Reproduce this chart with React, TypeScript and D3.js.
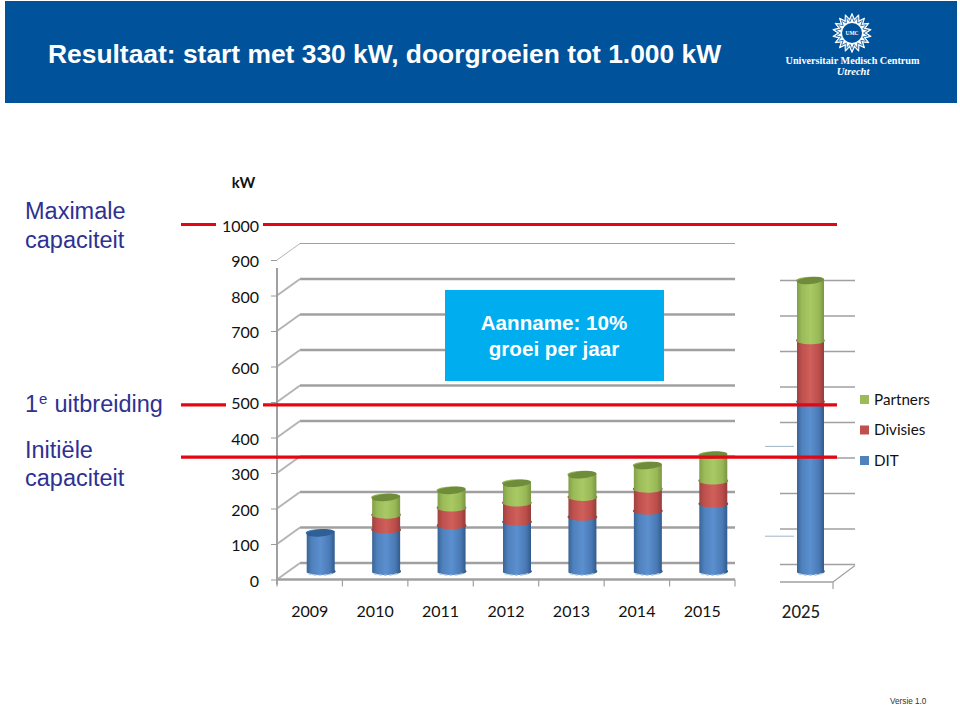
import { useEffect, useRef } from 'react';
import * as d3 from 'd3';

// Chart values (kW)
const years = ['2009', '2010', '2011', '2012', '2013', '2014', '2015'];
const lateYears = ['2025'];
const dit = [108, 117, 129, 139, 153, 170, 190];
const divisies = [0, 42, 50, 54, 56, 62, 65];
const partners = [0, 49, 49, 55, 63, 66, 72];
const ditLate = [478];
const divisiesLate = [172];
const partnersLate = [169];
const axisTicks = [0, 100, 200, 300, 400, 500, 600, 700, 800, 900, 1000];
const gridValues = [0, 100, 200, 300, 400, 500, 600, 700, 800, 900];
const lateGridValues = [0, 100, 200, 300, 400, 500, 600, 700, 800];
const capacityLines = [1000, 492, 345];
const legendNames = ['Partners', 'Divisies', 'DIT'];

const NAVY = '#2e3191';
const ARIAL = '"Liberation Sans", Arial, sans-serif';
const CHART_FONT = 'Lato, sans-serif';

const App = () => {
  const svgRef = useRef<SVGSVGElement | null>(null);

  useEffect(() => {
    const svg = d3.select(svgRef.current);
    svg.selectAll('*').remove();

    // Plot frame
    const left = 277;
    const right = 735;
    const depthX = 23;
    const depthY = 16.5;

    const y = d3.scaleLinear().domain([0, 900]).range([579.5, 260]);
    const x = d3.scaleBand().domain(years).range([left, right]);
    const xLate = d3.scaleBand().domain(lateYears).range([780, 833]);

    // Horizontal gradients for the cylinders
    const defs = svg.append('defs');
    const colors: Record<string, string[]> = {
      dit: ['#34608f', '#4f81bd', '#5b8fce', '#4a7ab6', '#2c5583'],
      div: ['#97403d', '#c0504d', '#cf5f5b', '#bb4d4a', '#8e3a38'],
      par: ['#7d9a42', '#9bbb59', '#a8c964', '#98b856', '#768f3d'],
    };
    Object.entries(colors).forEach(([key, stops]) => {
      const g = defs.append('linearGradient').attr('id', `cyl-${key}`);
      [0, 0.2, 0.5, 0.8, 1].forEach((o, i) => {
        g.append('stop').attr('offset', o).attr('stop-color', stops[i]);
      });
    });

    // Title band
    svg.append('rect').attr('x', 5).attr('y', 1).attr('width', 952).attr('height', 102)
      .attr('fill', '#00529b');
    svg.append('text').attr('x', 48).attr('y', 63)
      .attr('font-family', ARIAL).attr('font-weight', 700).attr('font-size', 26.4).attr('fill', '#fff')
      .text('Resultaat: start met 330 kW, doorgroeien tot 1.000 kW');

    // Logo
    const logo = svg.append('g').attr('transform', 'translate(852,33)');
    const star = (outer: number, inner: number) => {
      const pts = d3.range(36).map(i => [(i * Math.PI) / 18, i % 2 ? inner : outer] as [number, number]);
      return d3.lineRadial().curve(d3.curveLinearClosed)(pts) as string;
    };
    logo.append('path').attr('d', star(19.5, 14)).attr('fill', '#fff')
      .attr('stroke', '#fff').attr('stroke-width', 1).attr('stroke-linejoin', 'round');
    logo.append('path').attr('d', star(16.5, 11.5)).attr('fill', 'none').attr('stroke', '#00529b').attr('stroke-width', 0.8);
    logo.append('circle').attr('r', 10).attr('fill', '#00529b');
    logo.append('text').attr('text-anchor', 'middle').attr('y', 2)
      .attr('font-family', '"Liberation Serif", serif').attr('font-weight', 700).attr('font-size', 5.5).attr('fill', '#fff')
      .text('UMC');
    svg.append('text').attr('x', 852.5).attr('y', 64).attr('text-anchor', 'middle')
      .attr('font-family', '"Liberation Serif", serif').attr('font-weight', 700).attr('font-size', 10.2).attr('fill', '#fff')
      .text('Universitair Medisch Centrum');
    svg.append('text').attr('x', 853).attr('y', 75).attr('text-anchor', 'middle')
      .attr('font-family', '"Liberation Serif", serif').attr('font-weight', 700).attr('font-style', 'italic').attr('font-size', 10.5).attr('fill', '#fff')
      .text('Utrecht');

    // Left captions
    const captions = svg.append('g')
      .attr('font-family', ARIAL).attr('font-size', 23.5).attr('fill', NAVY);
    captions.append('text').attr('x', 25).attr('y', 219).text('Maximale');
    captions.append('text').attr('x', 25).attr('y', 248).text('capaciteit');
    const first = captions.append('text').attr('x', 25).attr('y', 412);
    first.append('tspan').text('1');
    first.append('tspan').attr('font-size', 15).attr('dy', -8).attr('dx', 1).text('e');
    first.append('tspan').attr('dy', 8).attr('dx', 7).text('uitbreiding');
    captions.append('text').attr('x', 25).attr('y', 458).text('Initiële');
    captions.append('text').attr('x', 25).attr('y', 486).text('capaciteit');

    // Back wall gridlines and the slanted side wall
    const gridColor = '#a0a0a0';
    const grid = svg.append('g').attr('fill', 'none');
    grid.selectAll('.back').data(gridValues).join('line')
      .attr('x1', left + depthX).attr('x2', right)
      .attr('y1', d => y(d) - depthY).attr('y2', d => y(d) - depthY)
      .attr('stroke', gridColor).attr('stroke-width', d => (d === 900 ? 1 : 2.4));
    grid.selectAll('.side').data(gridValues).join('line')
      .attr('x1', left).attr('x2', left + depthX)
      .attr('y1', d => y(d)).attr('y2', d => y(d) - depthY)
      .attr('stroke', '#b4b4b4').attr('stroke-width', d => (d === 900 ? 1 : 2));
    grid.append('line').attr('x1', left).attr('x2', left)
      .attr('y1', y(900) + 8).attr('y2', y(0) + 5)
      .attr('stroke', gridColor).attr('stroke-width', 2);
    grid.append('line').attr('x1', left).attr('x2', right)
      .attr('y1', y(0)).attr('y2', y(0))
      .attr('stroke', gridColor).attr('stroke-width', 2.4);
    grid.selectAll('.floorTick').data([...years.map(d => x(d) as number), right]).join('line')
      .attr('x1', d => d).attr('x2', d => d)
      .attr('y1', y(0)).attr('y2', y(0) + 7)
      .attr('stroke', gridColor).attr('stroke-width', 1.2);

    // Second plot for 2025, slightly shifted as in the pasted picture
    const lateLeft = xLate.range()[0];
    const lateRight = xLate.range()[1];
    grid.selectAll('.lateBack').data(lateGridValues).join('line')
      .attr('x1', lateLeft).attr('x2', lateRight + depthX - 1)
      .attr('y1', d => y(d) - depthY + 1.5).attr('y2', d => y(d) - depthY + 1.5)
      .attr('stroke', gridColor).attr('stroke-width', 1.6);
    const lateFloor = y(0) + 2.5;
    grid.append('line').attr('x1', lateLeft).attr('x2', lateRight)
      .attr('y1', lateFloor).attr('y2', lateFloor).attr('stroke', gridColor).attr('stroke-width', 1.6);
    grid.append('line').attr('x1', lateRight).attr('x2', lateRight + depthX - 1)
      .attr('y1', lateFloor).attr('y2', lateFloor - depthY).attr('stroke', gridColor).attr('stroke-width', 1.2);
    grid.append('line').attr('x1', lateRight).attr('x2', lateRight)
      .attr('y1', lateFloor).attr('y2', lateFloor + 7).attr('stroke', gridColor).attr('stroke-width', 1.2);

    // Two stray hairlines left of the 2025 bar
    grid.selectAll('.stray').data([375, 122]).join('line')
      .attr('x1', 765).attr('x2', 794)
      .attr('y1', d => y(d)).attr('y2', d => y(d))
      .attr('stroke', '#9fb4c8').attr('stroke-width', 1);

    // Cylinders: bars stand halfway the floor depth
    const barY = (v: number) => y(v) - depthY / 2;
    const drawBar = (cx: number, rx: number, segs: { key: string; from: number; to: number }[]) => {
      const g = svg.append('g');
      const ry = 3.6;
      const tilt = 1.3;
      segs.forEach(s => {
        if (s.to === s.from) return;
        const y0 = barY(s.from);
        const y1 = barY(s.to);
        g.append('path')
          .attr('d', `M${cx - rx},${y1 + tilt} A${rx},${ry} 0 0 1 ${cx + rx},${y1 - tilt} L${cx + rx},${y0 - tilt} A${rx},${ry} 0 0 1 ${cx - rx},${y0 + tilt} Z`)
          .attr('fill', `url(#cyl-${s.key})`);
      });
      const top = segs.filter(s => s.to > s.from).slice(-1)[0];
      const topY = barY(top.to);
      const topColor = top.key === 'dit' ? '#2f5f97' : '#6f8c3a';
      g.append('ellipse').attr('cx', cx).attr('cy', topY).attr('rx', rx).attr('ry', ry)
        .attr('transform', `rotate(${-(Math.atan2(tilt * 2, rx * 2) * 180) / Math.PI} ${cx} ${topY})`)
        .attr('fill', topColor);
      // light dashes along the foot of the bar
      const footY = barY(0);
      g.append('path')
        .attr('d', `M${cx - rx + 2},${footY + 2.6} A${rx},${ry} 0 0 0 ${cx + rx - 2},${footY + 2}`)
        .attr('fill', 'none').attr('stroke', '#b8cfec').attr('stroke-width', 1.4).attr('stroke-dasharray', '3 2');
    };
    const segments = (d: number, r: number, p: number) => [
      { key: 'dit', from: 0, to: d },
      { key: 'div', from: d, to: d + r },
      { key: 'par', from: d + r, to: d + r + p },
    ];
    years.forEach((yr, i) => {
      const cx = (x(yr) as number) + x.bandwidth() / 2 + depthX / 2 - 0.5;
      drawBar(cx, 14, segments(dit[i], divisies[i], partners[i]));
    });
    lateYears.forEach((yr, i) => {
      const cx = (xLate(yr) as number) + xLate.bandwidth() / 2 + 4;
      drawBar(cx, 13.5, segments(ditLate[i], divisiesLate[i], partnersLate[i]));
    });

    // Assumption box
    svg.append('rect').attr('x', 445).attr('y', 290).attr('width', 219).attr('height', 91).attr('fill', '#00adef');
    const box = svg.append('text').attr('text-anchor', 'middle')
      .attr('font-family', ARIAL).attr('font-weight', 700).attr('font-size', 20.6).attr('fill', '#fff');
    box.append('tspan').attr('x', 554).attr('y', 330).text('Aanname: 10%');
    box.append('tspan').attr('x', 554).attr('y', 356).text('groei per jaar');

    // Capacity lines in red, running over the bars
    svg.selectAll('.capacity').data(capacityLines).join('line')
      .attr('x1', d => (d === 345 ? 181 : 263)).attr('x2', 837)
      .attr('y1', d => y(d)).attr('y2', d => y(d))
      .attr('stroke', '#e30613').attr('stroke-width', 3.2);
    svg.selectAll('.capacityStub').data(capacityLines.slice(0, 2)).join('line')
      .attr('x1', 181).attr('x2', d => (d === 1000 ? 216 : 226))
      .attr('y1', d => y(d)).attr('y2', d => y(d))
      .attr('stroke', '#e30613').attr('stroke-width', 3.2);

    // Y axis
    const yAxis = svg.append('g')
      .attr('transform', `translate(${left},0)`)
      .call(d3.axisLeft(y).tickValues(axisTicks).tickSize(6).tickPadding(12).tickFormat(d3.format('d')));
    yAxis.select('.domain').remove();
    yAxis.selectAll('.tick line').attr('stroke', '#9a9a9a').attr('opacity', d => (d === 1000 ? 0 : 1));
    yAxis.selectAll('text').attr('y', 1.5).attr('font-family', CHART_FONT).attr('font-size', 16).attr('fill', '#111');
    svg.append('text').attr('x', 243.5).attr('y', 188).attr('text-anchor', 'middle')
      .attr('font-family', CHART_FONT).attr('font-weight', 700).attr('font-size', 15).attr('fill', '#111')
      .text('kW');

    // Year labels
    const xAxis = svg.append('g')
      .attr('transform', `translate(0,${y(0)})`)
      .call(d3.axisBottom(x).tickSize(0).tickPadding(26));
    xAxis.select('.domain').remove();
    xAxis.selectAll('text').attr('font-family', CHART_FONT).attr('font-size', 16).attr('fill', '#111');
    const xAxisLate = svg.append('g')
      .attr('transform', `translate(-5.5,${y(0) + 1})`)
      .call(d3.axisBottom(xLate).tickSize(0).tickPadding(26));
    xAxisLate.select('.domain').remove();
    xAxisLate.selectAll('text').attr('font-family', CHART_FONT).attr('font-size', 16.5).attr('font-weight', 500).attr('fill', '#222');

    // Legend
    const legendColor = d3.scaleOrdinal<string>().domain(legendNames).range(['#9bbb59', '#c0504d', '#4f81bd']);
    const legendY = d3.scalePoint().domain(legendNames).range([399.5, 460.5]);
    const legend = svg.selectAll('.legend').data(legendNames).join('g')
      .attr('transform', d => `translate(860,${legendY(d)})`);
    legend.append('rect').attr('y', -4.5).attr('width', 9).attr('height', 9).attr('fill', d => legendColor(d));
    legend.append('text').attr('x', 14).attr('dy', '0.35em')
      .attr('font-family', CHART_FONT).attr('font-size', 15.2).attr('fill', '#111')
      .text(d => d);

    // Footer
    svg.append('text').attr('x', 890).attr('y', 704)
      .attr('font-family', ARIAL).attr('font-size', 8.2).attr('fill', '#333')
      .text('Versie 1.0');
  }, []);

  return (
    <svg ref={svgRef} width={960} height={706} viewBox="0 0 960 706"
      style={{ position: 'absolute', left: 0, top: 0, background: '#fff' }} />
  );
};

export default App;
